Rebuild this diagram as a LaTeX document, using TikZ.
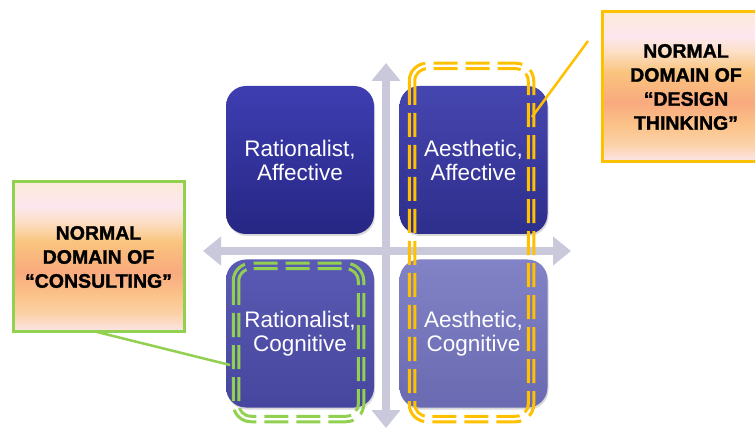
\documentclass[tikz,border=0pt]{standalone}
\usepackage{fontspec}
\setmainfont{Liberation Sans}
\newfontfamily\heavyfont[FakeBold=1.6]{Liberation Sans Bold}
\usetikzlibrary{arrows.meta,shadows}

\definecolor{axisgray}{HTML}{C9C9DB}
\definecolor{dtorange}{HTML}{FFC000}
\definecolor{cgreen}{HTML}{92D050}
\definecolor{cpinkA}{HTML}{FDE6EA}
\definecolor{cpinkB}{HTML}{FBD2A8}
\definecolor{cyelA}{HTML}{FBC38A}
\definecolor{csalmon}{HTML}{F9AA7E}
\definecolor{cyelB}{HTML}{FAC47E}
\definecolor{cpeach}{HTML}{FCE0C8}
\definecolor{cpinkC}{HTML}{FDE7EF}
\definecolor{ccream}{HTML}{FCEAD9}
\pgfdeclareverticalshading{calloutshade}{100bp}{color(0bp)=(cpinkA); color(25bp)=(cpinkA); color(31bp)=(cpinkB); color(37bp)=(cyelA); color(45bp)=(csalmon); color(55bp)=(cyelB); color(62bp)=(cpeach); color(67bp)=(cpinkC); color(75bp)=(ccream); color(100bp)=(ccream)}

\tikzset{
  quad/.style={rounded corners=20pt, minimum width=148pt, minimum height=148pt, inner sep=0pt,
    text=white, align=center, font=\fontsize{22.5}{24}\selectfont,
    drop shadow={opacity=0.3, shadow xshift=1pt, shadow yshift=-2pt}},
  axis/.style={axisgray, line width=8pt, {Triangle[width=28pt,length=18pt]}-{Triangle[width=28pt,length=18pt]}},
  callout/.style={shading=calloutshade, line width=3pt, inner sep=0pt, align=center,
    font=\heavyfont\fontsize{19.5}{24}\selectfont, minimum height=150pt},
  dashdomain/.style={line width=8.5pt, dash pattern=on 24pt off 8pt, rounded corners=15pt},
  pointer/.style={line width=2.5pt}
}

\begin{document}
\begin{tikzpicture}[x=1pt,y=-1pt]
\useasboundingbox (0,0) rectangle (755,430);
\clip (0,0) rectangle (755,430);

% axes
\coordinate (vt) at (386,63);
\coordinate (vb) at (386,428);
\coordinate (hl) at (203,251);
\coordinate (hr) at (571,251);
\draw[axis] (vb) -- (vt);
\draw[axis] (hl) -- (hr);

% quadrants
\node[quad, top color={rgb,255:red,62;green,62;blue,178}, bottom color={rgb,255:red,38;green,38;blue,132}] (ra) at (300,160) {Rationalist,\\Affective};
\node[quad, top color={rgb,255:red,70;green,70;blue,176}, bottom color={rgb,255:red,46;green,46;blue,140}] (aa) at (473.5,160) {Aesthetic,\\Affective};
\node[quad, top color={rgb,255:red,90;green,90;blue,180}, bottom color={rgb,255:red,70;green,70;blue,158}] (rc) at (300,333.5) {Rationalist,\\Cognitive};
\node[quad, top color={rgb,255:red,130;green,130;blue,198}, bottom color={rgb,255:red,106;green,106;blue,178}] (ac) at (473.5,333.5) {Aesthetic,\\Cognitive};

% orange double dashed domain: outer stroke
\begin{scope}[even odd rule, rounded corners=16.25pt]
\clip (-200,-200) rectangle (1000,700) (410.75,64.75) rectangle (532.25,420.25);
\draw[dtorange, dashdomain] (412,66) rectangle (531,419);
\end{scope}
% inner stroke
\begin{scope}[rounded corners=13.75pt]
\clip (413.25,67.25) rectangle (529.75,417.75);
\draw[dtorange, dashdomain] (412,66) rectangle (531,419);
\end{scope}

% green double dashed domain
\begin{scope}[even odd rule, rounded corners=16.25pt]
\clip (-200,-200) rectangle (1000,700) (234.75,264.75) rectangle (362.25,420.25);
\draw[cgreen, dashdomain] (236,266) rectangle (361,419);
\end{scope}
\begin{scope}[rounded corners=13.75pt]
\clip (237.25,267.25) rectangle (359.75,417.75);
\draw[cgreen, dashdomain] (236,266) rectangle (361,419);
\end{scope}

% callouts
\coordinate (dtp) at (588,41);
\coordinate (dtend) at (532,117);
\coordinate (csend) at (230,365);
\draw[cgreen, pointer] (93,331) -- (csend);
\node[callout, draw=dtorange, minimum width=168pt] (dt) at (686,87) {NORMAL\\DOMAIN OF\\“DESIGN\\THINKING”};
\node[callout, draw=cgreen, minimum width=171pt] (cs) at (98.5,257) {NORMAL\\DOMAIN OF\\“CONSULTING”};
\draw[dtorange, pointer] (dtp) -- (dtend);
\end{tikzpicture}
\end{document}
